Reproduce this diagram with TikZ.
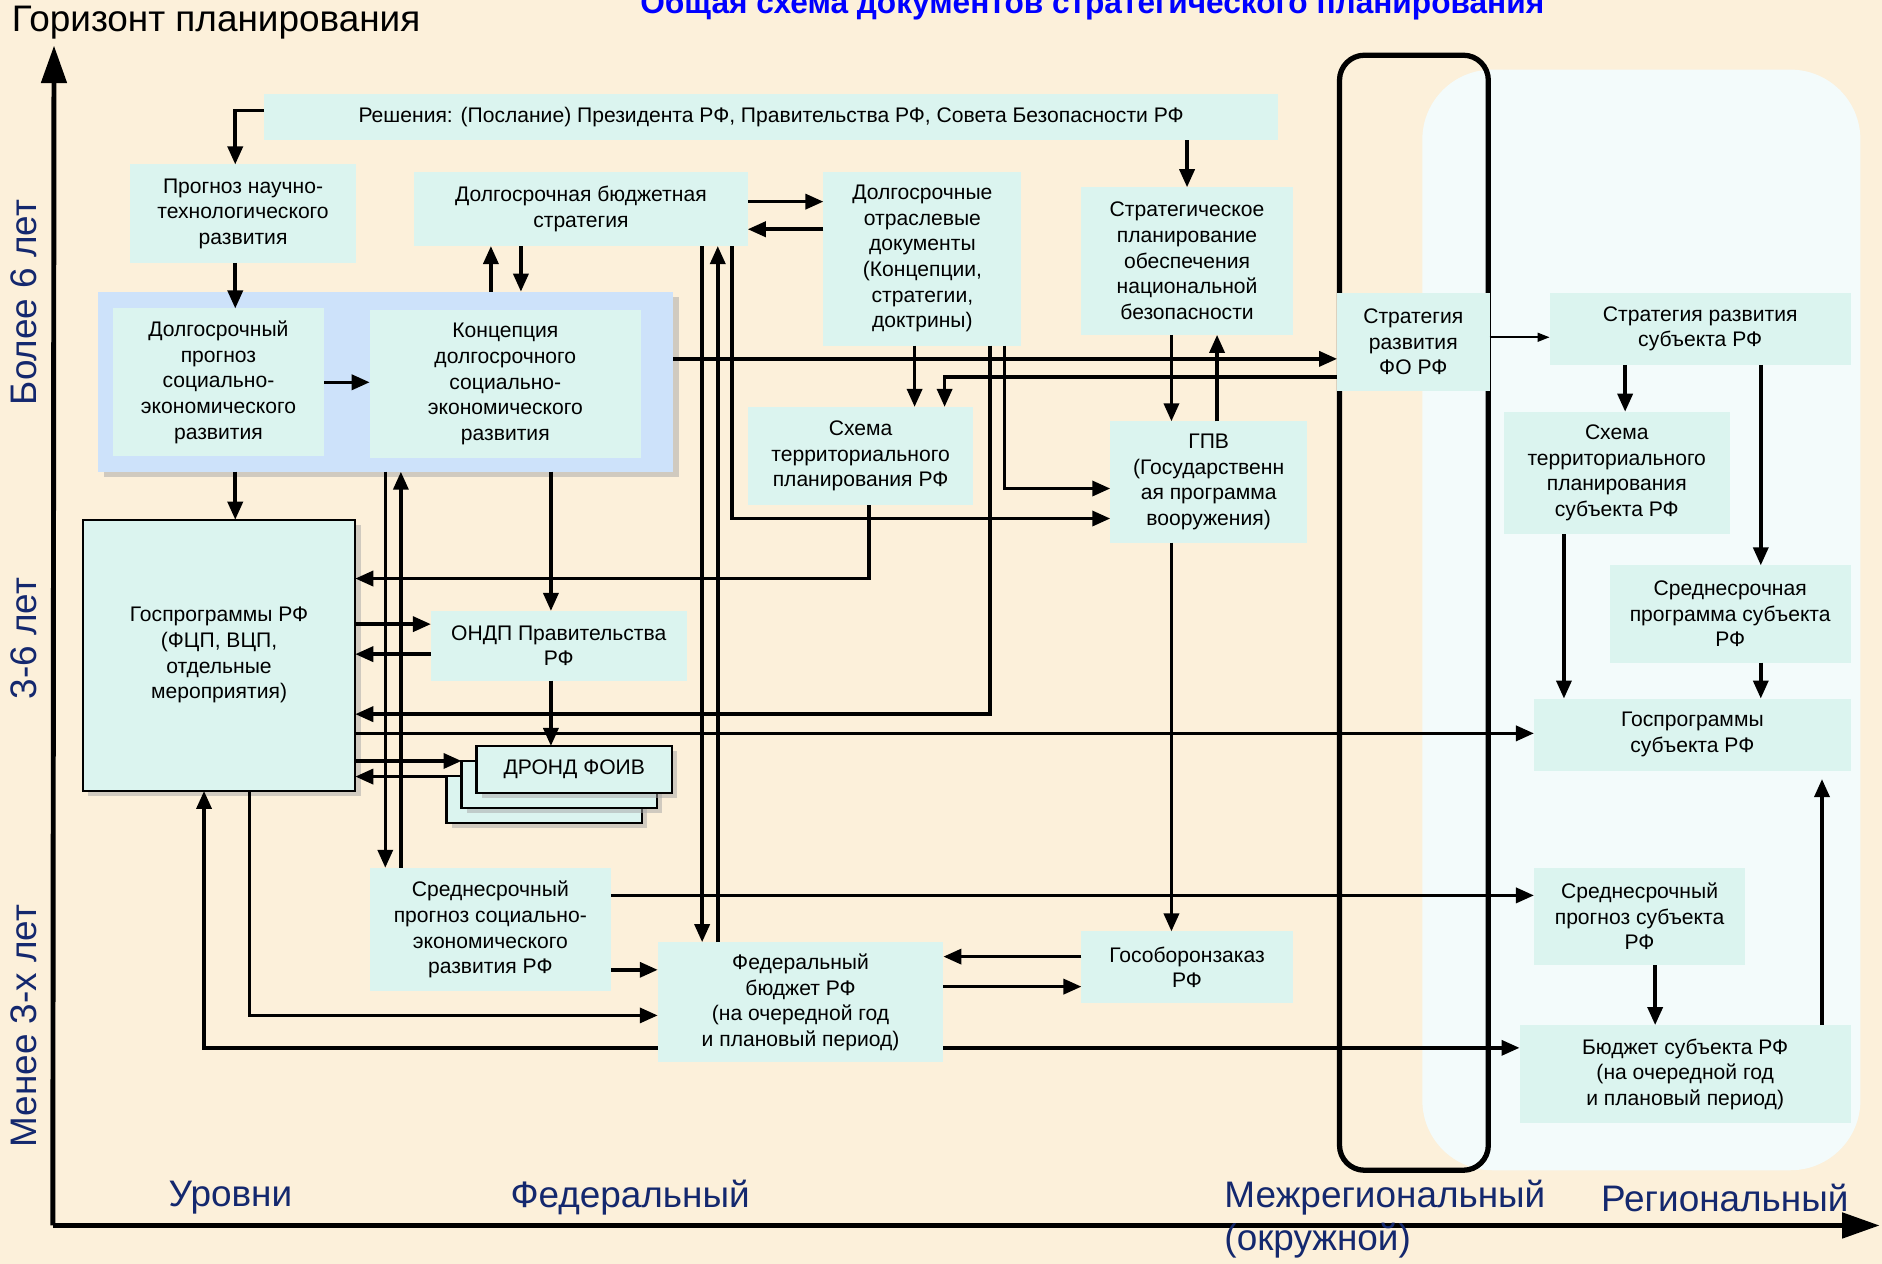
\documentclass[tikz,border=0pt]{standalone}
\usepackage{fontspec}
\setmainfont{Liberation Sans}
\usepackage{xcolor}
\definecolor{bgbeige}{RGB}{252,240,218}
\definecolor{boxfill}{RGB}{219,244,239}
\definecolor{grpfill}{RGB}{205,226,250}
\definecolor{panelfill}{RGB}{243,251,251}
\definecolor{navy}{RGB}{20,40,110}
\definecolor{titleblue}{RGB}{0,0,255}
\usepackage{tikz}
\usetikzlibrary{arrows.meta, shadows}
\tikzstyle{box} = [
    rectangle, align=center,
    inner sep=2pt, outer sep=0pt,
    font=\fontsize{12}{14.6}\selectfont,
]
\tikzstyle{doc} = [
    box,
    fill=boxfill,
]
\tikzstyle{blockgroup} = [
    rectangle, outer sep=0pt,
    fill=grpfill,
    drop shadow={shadow xshift=3pt, shadow yshift=-3pt, fill=black!35},
]
\tikzstyle{docframed} = [
    doc,
    draw=black, line width=1.2pt,
    drop shadow={shadow xshift=3pt, shadow yshift=-3pt, fill=black!35},
]
\tikzstyle{arrow} = [line width=2pt, -{Triangle[length=0.36cm, width=0.3cm]}]
\tikzstyle{thinarrow} = [line width=0.9pt, -{Triangle[length=0.24cm, width=0.18cm]}]
\tikzstyle{axisline} = [line width=2.8pt, -{Triangle[length=0.75cm, width=0.5cm]}]
\tikzstyle{axislabel} = [text=navy, font=\fontsize{21}{24}\selectfont]

\begin{document}
\begin{tikzpicture}[x=0.024cm, y=-0.024cm]
    % background
    \fill[bgbeige] (0,0) rectangle (1568,1053);
    \useasboundingbox (0,0) rectangle (1568,1053);
    \fill[panelfill, rounded corners=1.4cm] (1185,58) rectangle (1550,975);
    \draw[line width=3pt, rounded corners=0.5cm] (1116,46) rectangle (1240,975);

    % axes
    \coordinate (corner) at (44,1021);
    \coordinate (ytop) at (45,38);
    \coordinate (xend) at (1566,1021);
    \draw [axisline] (corner) -- (ytop);
    \draw [axisline] (corner) -- (xend);

    % labels
    \node (title) at (910,11) [anchor=base, text=titleblue, font=\fontsize{18}{21}\bfseries] {Общая схема документов стратегического планирования};
    \node (horizon) at (180,19) [font=\fontsize{21}{24}\selectfont] {Горизонт планирования};
    \node (long) at (20,252) [axislabel, rotate=90] {Более 6 лет};
    \node (mid) at (20,532) [axislabel, rotate=90] {3-6 лет};
    \node (short) at (20,855) [axislabel, rotate=90] {Менее 3-х лет};
    \node (levels) at (192,998) [axislabel] {Уровни};
    \node (federal) at (525,998) [axislabel] {Федеральный};
    \node (interreg) at (1015,998) [axislabel, anchor=west] {Межрегиональный};
    \node (okrug) at (1015,1034) [axislabel, anchor=west] {(окружной)};
    \node (regional) at (1437,998) [axislabel] {Региональный};

    % boxes: federal level
    \node (resh) at (642.5,97.5) [doc, minimum width=20.28cm, minimum height=0.936cm] {Решения: (Послание) Президента РФ, Правительства РФ, Совета Безопасности РФ};
    \node (progNT) at (202.5,178) [doc, minimum width=4.536cm, minimum height=1.968cm] {Прогноз научно-\\технологического\\развития};
    \node (dbs) at (484,174) [doc, minimum width=6.672cm, minimum height=1.488cm] {Долгосрочная бюджетная\\стратегия};
    \node (dod) at (768.5,215.5) [doc, minimum width=3.96cm, minimum height=3.48cm] {Долгосрочные\\отраслевые\\документы\\(Концепции,\\стратегии,\\доктрины)};
    \node (spons) at (989,217.5) [doc, minimum width=4.224cm, minimum height=2.952cm] {Стратегическое\\планирование\\обеспечения\\национальной\\безопасности};
    \node (grp) at (321.5,318) [blockgroup, minimum width=11.496cm, minimum height=3.6cm] {};
    \node (dpsr) at (182,318.5) [doc, minimum width=4.224cm, minimum height=2.952cm] {Долгосрочный\\прогноз\\социально-\\экономического\\развития};
    \node (kdsr) at (421,320) [doc, minimum width=5.424cm, minimum height=2.976cm] {Концепция\\долгосрочного\\социально-\\экономического\\развития};
    \node (stpRF) at (717,380) [doc, minimum width=4.512cm, minimum height=1.968cm] {Схема\\территориального\\планирования РФ};
    \node (gpv) at (1007,401.5) [doc, minimum width=3.936cm, minimum height=2.424cm] {ГПВ\\(Государственн\\ая программа\\вооружения)};
    \node (gpRF) at (182.5,546) [docframed, minimum width=5.448cm, minimum height=5.424cm] {Госпрограммы РФ\\(ФЦП, ВЦП,\\отдельные\\мероприятия)};
    \node (ondp) at (465.5,538) [doc, minimum width=5.112cm, minimum height=1.392cm] {ОНДП Правительства\\РФ};
    \foreach \i in {3,2,1} {
        \node (drond\i) at (478.5-12.5*\i+12.5, 641+12.5*\i-12.5) [docframed, minimum width=3.912cm, minimum height=0.936cm] {\ifnum\i=1 ДРОНД ФОИВ\fi};
    }
    \node (sppRF) at (408.5,774.5) [doc, minimum width=4.824cm, minimum height=2.472cm] {Среднесрочный\\прогноз социально-\\экономического\\развития РФ};
    \node (fb) at (667,835) [doc, minimum width=5.712cm, minimum height=2.4cm] {Федеральный\\бюджет РФ\\(на очередной год\\и плановый период)};
    \node (goz) at (989,806) [doc, minimum width=4.224cm, minimum height=1.44cm] {Гособоронзаказ\\РФ};

    % boxes: interregional and regional level
    \node (strFO) at (1177.5,285) [doc, minimum width=3.048cm, minimum height=1.968cm] {Стратегия\\развития\\ФО РФ};
    \node (strSub) at (1416.5,274) [doc, minimum width=6.024cm, minimum height=1.44cm] {Стратегия развития\\субъекта РФ};
    \node (stpSub) at (1347,394) [doc, minimum width=4.512cm, minimum height=2.448cm] {Схема\\территориального\\планирования\\субъекта РФ};
    \node (spSub) at (1441.5,511.5) [doc, minimum width=4.824cm, minimum height=1.944cm] {Среднесрочная\\программа субъекта\\РФ};
    \node (gpSub) at (1410,612) [doc, minimum width=6.336cm, minimum height=1.44cm] {Госпрограммы\\субъекта РФ};
    \node (sppSub) at (1366,763.5) [doc, minimum width=4.224cm, minimum height=1.944cm] {Среднесрочный\\прогноз субъекта\\РФ};
    \node (bSub) at (1404,895) [doc, minimum width=6.624cm, minimum height=1.968cm] {Бюджет субъекта РФ\\(на очередной год\\и плановый период)};

    % arrows: federal level
    \draw [arrow] (resh.west |- 0,92) -| (progNT.north -| 196,0);
    \draw [arrow] (resh.south -| spons.north) -- (spons.north);
    \draw [arrow] (progNT.south -| 196,0) -- (dpsr.north -| 196,0);
    \draw [arrow] (dpsr.east) -- (kdsr.west |- dpsr.east);
    \draw [arrow] (grp.north -| 409,0) -- (dbs.south -| 409,0);
    \draw [arrow] (dbs.south -| 434,0) -- (grp.north -| 434,0);
    \draw [arrow] (dbs.east |- 0,168) -- (dod.west |- 0,168);
    \draw [arrow] (dod.west |- 0,191) -- (dbs.east |- 0,191);
    \draw [arrow] (dbs.south -| 585,0) -- (fb.north -| 585,0);
    \draw [arrow] (fb.north -| 598,0) -- (dbs.south -| 598,0);
    \draw [arrow] (dbs.south -| 610,0) |- (gpv.west |- 0,432);
    \draw [arrow] (dod.south -| 762,0) -- (stpRF.north -| 762,0);
    \draw [arrow] (dod.south -| 825,0) |- (gpRF.east |- 0,595);
    \draw [arrow] (dod.south -| 837,0) |- (gpv.west |- 0,407);
    \draw [arrow] (grp.east |- 0,299) -- (strFO.west |- 0,299);
    \draw [arrow] (strFO.west |- 0,314) -| (stpRF.north -| 787,0);
    \draw [arrow] (spons.south -| 976,0) -- (gpv.north -| 976,0);
    \draw [arrow] (gpv.north -| 1014,0) -- (spons.south -| 1014,0);
    \draw [arrow] (gpv.south -| 976,0) -- (goz.north -| 976,0);
    \draw [arrow] (grp.south -| 196,0) -- (gpRF.north -| 196,0);
    \draw [arrow] (grp.south -| 321,0) -- (sppRF.north -| 321,0);
    \draw [arrow] (sppRF.north -| 334,0) -- (grp.south -| 334,0);
    \draw [arrow] (grp.south -| 459,0) -- (ondp.north -| 459,0);
    \draw [arrow] (stpRF.south -| 724,0) |- (gpRF.east |- 0,482);
    \draw [arrow] (gpRF.east |- 0,520) -- (ondp.west |- 0,520);
    \draw [arrow] (ondp.west |- 0,545) -- (gpRF.east |- 0,545);
    \draw [arrow] (ondp.south -| 459,0) -- (drond1.north -| 459,0);
    \draw [arrow] (gpRF.east |- 0,611) -- (gpSub.west |- 0,611);
    \draw [arrow] (gpRF.east |- 0,634) -- (drond2.west |- 0,634);
    \draw [arrow] (drond3.west |- 0,647) -- (gpRF.east |- 0,647);
    \draw [arrow] (fb.west |- 0,873) -| (gpRF.south -| 170,0);
    \draw [arrow] (gpRF.south -| 208,0) |- (fb.west |- 0,846);
    \draw [arrow] (sppRF.east |- 0,808) -- (fb.west |- 0,808);
    \draw [arrow] (sppRF.east |- 0,746) -- (sppSub.west |- 0,746);
    \draw [arrow] (goz.west |- 0,797) -- (fb.east |- 0,797);
    \draw [arrow] (fb.east |- 0,822) -- (goz.west |- 0,822);
    \draw [arrow] (fb.east |- 0,873) -- (bSub.west |- 0,873);

    % arrows: regional level
    \draw [thinarrow] (strFO.east |- 0,281) -- (strSub.west |- 0,281);
    \draw [arrow] (strSub.south -| 1354,0) -- (stpSub.north -| 1354,0);
    \draw [arrow] (strSub.south -| 1467,0) -- (spSub.north -| 1467,0);
    \draw [arrow] (stpSub.south -| 1303,0) -- (gpSub.north -| 1303,0);
    \draw [arrow] (spSub.south -| 1467,0) -- (gpSub.north -| 1467,0);
    \draw [arrow] (sppSub.south -| 1379,0) -- (bSub.north -| 1379,0);
    \draw [arrow, shorten >=0.17cm] (bSub.north -| 1518,0) -- (gpSub.south -| 1518,0);

\end{tikzpicture}
\end{document}
